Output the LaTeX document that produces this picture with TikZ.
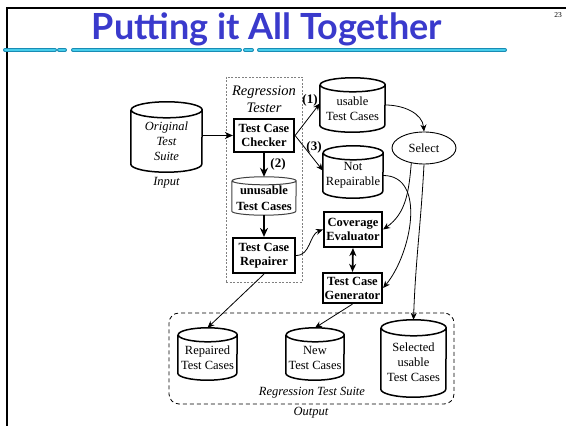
\documentclass[tikz,border=0pt]{standalone}
\usepackage{fontspec}
\setmainfont{Liberation Serif}
\newfontfamily\titlefont{Lato}
\usetikzlibrary{arrows.meta,shapes.geometric}

\definecolor{titleblue}{RGB}{58,58,204}
\definecolor{brushdark}{RGB}{25,140,180}
\definecolor{brushlight}{RGB}{70,205,235}

% database cylinder around a body node: #2 = half width, #3 = cap radius
\newcommand\drawcyl[4][]{%
  \draw[cylline,#1] (#2.north west) -- ([yshift=#4]#2.south west)
    arc[start angle=180,end angle=360,x radius=#3,y radius=#4]
    -- (#2.north east)
    arc[start angle=0,end angle=360,x radius=#3,y radius=#4];}

\begin{document}
\begin{tikzpicture}[x=1pt,y=1pt,
  txt/.style={font=\fontsize{12.5}{15}\selectfont, align=center, inner sep=0pt},
  cyl/.style={txt, draw=none},
  cylline/.style={line width=1.5pt},
  proc/.style={draw, line width=2.2pt, inner sep=0pt, align=center,
    font=\fontsize{12.5}{14}\selectfont\bfseries},
  num/.style={font=\fontsize{13}{15}\selectfont\bfseries, inner sep=0pt},
  thickarrow/.style={line width=1.8pt, -{Stealth[length=9pt,width=8pt]}},
  midarrow/.style={line width=1.2pt, -{Stealth[length=8pt,width=7pt]}},
  thinarrow/.style={line width=0.8pt, -{Stealth[length=7pt,width=6pt]}},
]
\useasboundingbox (0,0) rectangle (566,426);

% slide frame, page number and title
\draw[line width=2pt] (566,418) -- (6.5,418) -- (6.5,0);
\node[font=\fontsize{7.5}{8}\selectfont, inner sep=0pt] (pagenum) at (558,411) {23};
\node[font=\titlefont\bfseries\fontsize{36}{40}\selectfont, text=titleblue,
  anchor=base, inner sep=0pt] (title) at (267,386) {Putting it All Together};
\foreach \a/\b in {5/55,59/65,73/240,245/252,259/505}{
  \draw[brushdark, line width=4pt, line cap=round] (\a,376) -- (\b,376);
  \draw[brushlight, line width=2pt, line cap=round] (\a,376.4) -- (\b,376.4);
}

% regression tester group
\node[draw=gray, dash pattern=on 2pt off 1.5pt, line width=0.6pt,
  minimum width=76pt, minimum height=205pt, inner sep=0pt] (tester) at (264,246.5) {};
\node[txt, font=\fontsize{14.5}{17}\selectfont\itshape] (testerlabel) at (264,326.5) {Regression\\Tester};

% output group
\node[draw, line width=0.8pt, dash pattern=on 4pt off 3pt, rounded corners=10pt,
  minimum width=285pt, minimum height=91pt, inner sep=0pt] (outbox) at (311.5,67.5) {};
\node[txt, font=\fontsize{12.5}{15}\selectfont\itshape] (suitelabel) at (312,33) {Regression Test Suite};
\node[txt, font=\fontsize{12.5}{15}\selectfont\itshape] (outputlabel) at (311,13) {Output};

% input suite
\node[cyl, font=\fontsize{12.5}{15}\selectfont\itshape, minimum width=71pt, minimum height=62pt] (orig) at (166.5,285) {Original\\Test\\Suite};
\drawcyl{orig}{35.5pt}{8pt}
\node[txt, font=\fontsize{12.5}{15}\selectfont\itshape] (input) at (166.5,243) {Input};

% processing steps
\node[proc, minimum width=60pt, minimum height=33pt] (checker) at (264,290.5) {Test Case\\Checker};
\node[proc, minimum width=62pt, minimum height=35pt] (repairer) at (264,170.5) {Test Case\\Repairer};
\node[proc, minimum width=58pt, minimum height=35pt] (coverage) at (353,196.5) {Coverage\\Evaluator};
\node[proc, minimum width=59pt, minimum height=30pt] (generator) at (352.5,138) {Test Case\\Generator};

% intermediate stores
\node[cyl, font=\fontsize{12.5}{16}\selectfont\bfseries, minimum width=64pt, minimum height=34pt] (unusable) at (264,228) {unusable\\Test Cases};
\drawcyl[line width=1pt, draw=black!75]{unusable}{32pt}{4pt}
\node[cyl, minimum width=65pt, minimum height=47pt] (usable) at (352.5,317.5) {usable\\Test Cases};
\drawcyl{usable}{32.5pt}{7pt}
\node[cyl, minimum width=60pt, minimum height=45pt] (notrep) at (353,250.5) {Not\\Repairable};
\drawcyl{notrep}{30pt}{7pt}
\node[ellipse, draw, line width=0.9pt, minimum width=64pt, minimum height=32pt, inner sep=0pt,
  font=\fontsize{12.5}{15}\selectfont] (select) at (424,278) {Select};

% output stores
\node[cyl, minimum width=59pt, minimum height=45pt] (repaired) at (207.5,68.5) {Repaired\\Test Cases};
\drawcyl{repaired}{29.5pt}{7pt}
\node[cyl, minimum width=58pt, minimum height=45pt] (new) at (315,68.5) {New\\Test Cases};
\drawcyl{new}{29pt}{7pt}
\node[cyl, minimum width=65pt, minimum height=69pt] (selected) at (413.5,63.5) {Selected\\usable\\Test Cases};
\drawcyl{selected}{32.5pt}{8pt}

% branch numbers
\node[num] (n1) at (310,326) {(1)};
\node[num] (n2) at (278,262) {(2)};
\node[num] (n3) at (314,279) {(3)};

% connectors
\draw[midarrow] (orig.east |- checker.west) -- (checker.west);
\draw[thickarrow] (checker.south) -- ([yshift=4pt]unusable.north);
\draw[thickarrow] (unusable.south) -- (repairer.north);
\draw[thinarrow] (checker.east) -- ([yshift=5pt]usable.west);
\draw[thinarrow] (checker.east) -- ([yshift=5pt]notrep.west);
\draw[thinarrow] ([yshift=3.5pt]usable.east) to[out=0,in=95] (select.north);
\draw[thinarrow] (select.230) to[out=-95,in=35] (coverage.east);
\draw[thinarrow] (repairer.east) to[out=0,in=200] (coverage.west);
\draw[line width=1.8pt, {Stealth[length=8pt,width=7pt]}-{Stealth[length=8pt,width=7pt]}] (coverage.south) -- (generator.north);
\draw[thinarrow] (notrep.east) to[out=0,in=50] (generator.east);
\draw[thinarrow] (select.south) to[out=-93,in=88] ([yshift=8pt]selected.north);
\draw[thinarrow] (repairer.south) -- ([yshift=7pt]repaired.north);
\draw[thinarrow] (generator.south) -- ([yshift=7pt]new.north);
\end{tikzpicture}
\end{document}
